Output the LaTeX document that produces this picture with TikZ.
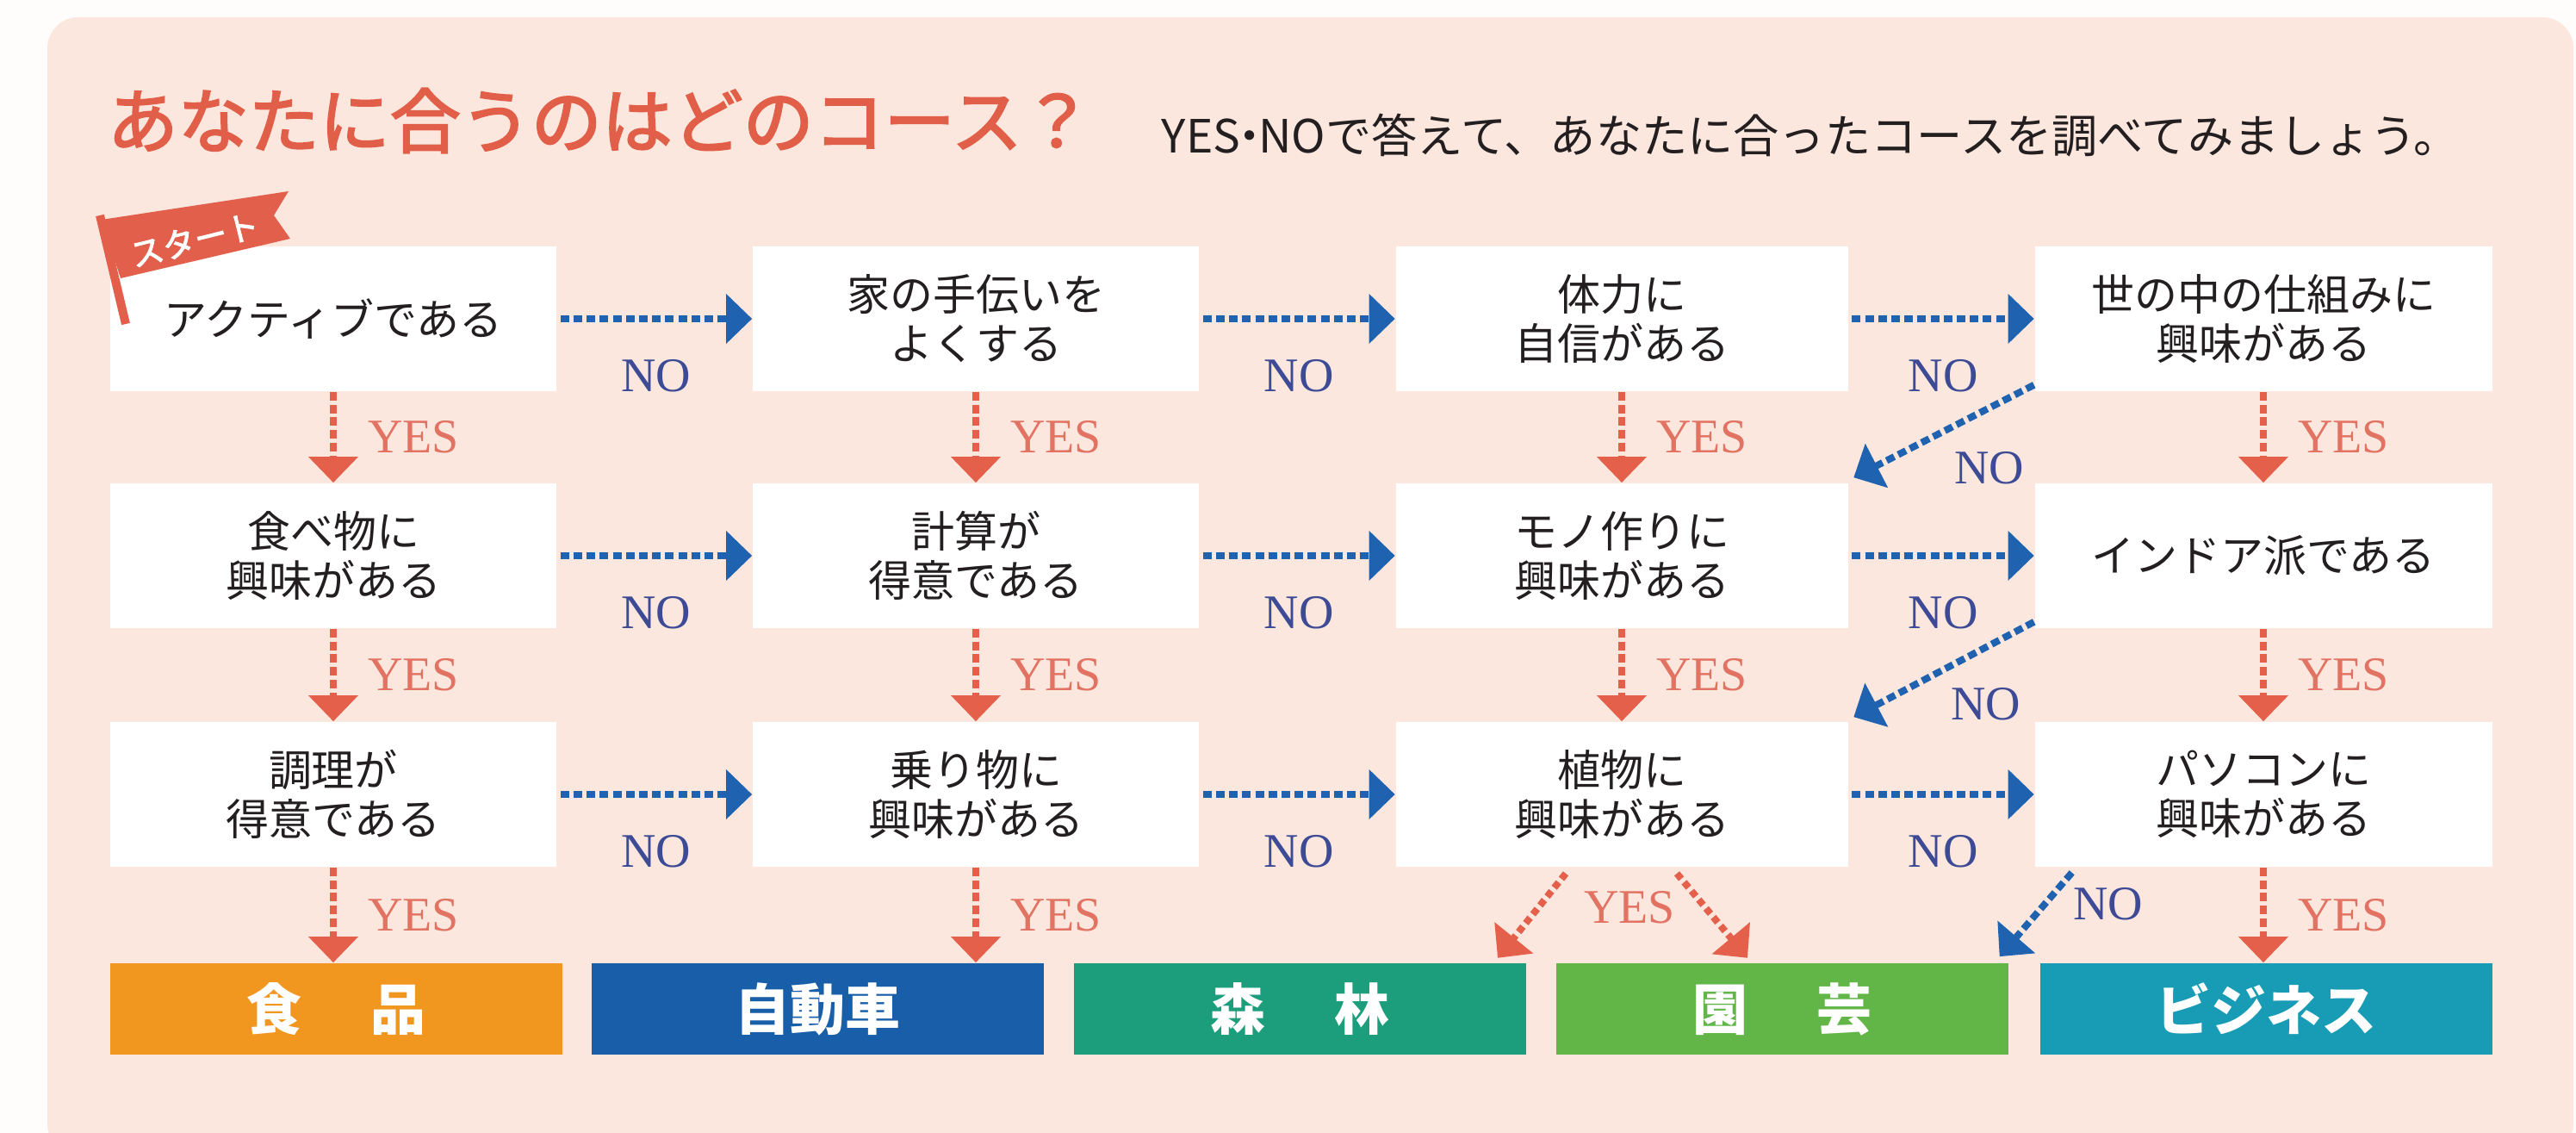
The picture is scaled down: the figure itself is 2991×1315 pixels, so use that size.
\documentclass[tikz,border=0pt]{standalone}
\usepackage{fontspec}
\newfontfamily\jp{Noto Sans CJK JP}
\newfontfamily\jpmed{Noto Sans CJK JP}[FakeBold=2.5]
\newfontfamily\ser{Liberation Serif}
\usetikzlibrary{arrows.meta,calc}
\definecolor{outerbg}{HTML}{FFFDFB}
\definecolor{panelbg}{HTML}{FCE7DE}
\definecolor{titlec}{HTML}{E15F49}
\definecolor{textc}{HTML}{231F20}
\definecolor{noblue}{HTML}{1F62B0}
\definecolor{notext}{HTML}{3D4A95}
\definecolor{yesred}{HTML}{E5604A}
\definecolor{yestext}{HTML}{E27262}
\definecolor{flagc}{HTML}{E2604B}
\definecolor{cfood}{HTML}{F1961E}
\definecolor{ccar}{HTML}{185EA8}
\definecolor{cforest}{HTML}{1C9E7C}
\definecolor{cgarden}{HTML}{62B648}
\definecolor{cbiz}{HTML}{189BB5}
\begin{document}
\begin{tikzpicture}[x=0.25pt,y=-0.25pt,
  qbox/.style={fill=white, minimum height=42pt, inner sep=0pt, align=center,
    text=textc, font=\jp\fontsize{12.5}{14.25}\selectfont},
  course/.style={minimum height=26.5pt, minimum width=131.25pt, inner sep=0pt,
    text=white, font=\jp\bfseries\fontsize{16}{18}\selectfont},
  noline/.style={draw=noblue, line width=2pt, dash pattern=on 2.5pt off 1.3pt,
    -{Triangle[length=7.5pt,width=14pt]}, fill=none},
  yesline/.style={draw=yesred, line width=2pt, dash pattern=on 2.5pt off 1.2pt,
    -{Triangle[length=7.5pt,width=14pt]}},
  nolab/.style={text=notext, inner sep=0pt, font=\ser\fontsize{14}{16}\selectfont},
  yeslab/.style={text=yestext, inner sep=0pt, font=\ser\fontsize{14}{16}\selectfont},
]
\useasboundingbox (0,0) rectangle (2991,1315);
\fill[outerbg] (0,0) rectangle (2991,1315);
\fill[panelbg, rounded corners=9pt] (55,20) rectangle (2988,1340);

% title
\node[anchor=west, inner sep=0pt, text=titlec, font=\jpmed\fontsize{20.5}{24}\selectfont] (title) at (124,140) {あなたに合うのはどのコース？};
\node[anchor=west, inner sep=0pt, text=textc, font=\jp\fontsize{13.3}{15}\selectfont] (sub) at (1348,157) {YES\kern-.3em・\kern-.3em NOで答えて、あなたに合ったコースを調べてみましょう。};

% question boxes
\node[qbox, minimum width=129.5pt] (q11) at (387,370) {アクティブである};
\node[qbox, minimum width=129.5pt] (q12) at (1133,370) {家の手伝いを\\よくする};
\node[qbox, minimum width=131.25pt] (q13) at (1883,370) {体力に\\自信がある};
\node[qbox, minimum width=132.75pt] (q14) at (2628,370) {世の中の仕組みに\\興味がある};

\node[qbox, minimum width=129.5pt] (q21) at (387,645) {食べ物に\\興味がある};
\node[qbox, minimum width=129.5pt] (q22) at (1133,645) {計算が\\得意である};
\node[qbox, minimum width=131.25pt] (q23) at (1883,645) {モノ作りに\\興味がある};
\node[qbox, minimum width=132.75pt] (q24) at (2628,645) {インドア派である};

\node[qbox, minimum width=129.5pt] (q31) at (387,922) {調理が\\得意である};
\node[qbox, minimum width=129.5pt] (q32) at (1133,922) {乗り物に\\興味がある};
\node[qbox, minimum width=131.25pt] (q33) at (1883,922) {植物に\\興味がある};
\node[qbox, minimum width=132.75pt] (q34) at (2628,922) {パソコンに\\興味がある};

% course boxes
\node[course, fill=cfood] (k1) at (390,1171) {食\hspace{1.25em}品};
\node[course, fill=ccar] (k2) at (949.5,1171) {自動車};
\node[course, fill=cforest] (k3) at (1509,1171) {森\hspace{1.25em}林};
\node[course, fill=cgarden] (k4) at (2069,1171) {園\hspace{1.25em}芸};
\node[course, fill=cbiz] (k5) at (2631,1171) {ビジネス};

% start flag
\fill[flagc] (118,255) -- (335,222) -- (318,250) -- (337,277) -- (140,323) -- cycle;
\draw[flagc, line width=2.5pt] (116,250) -- (146,376);
\node[rotate=14, text=white, inner sep=0pt, font=\jpmed\fontsize{9.5}{11}\selectfont] (start) at (226,278) {スタート};

% horizontal NO arrows
\foreach \r in {1,2,3}{
  \foreach \a/\b in {1/2,2/3,3/4}{
    \draw[noline] ([xshift=1pt]q\r\a.east) -- (q\r\b.west)
      node[nolab, midway, yshift=-16.5pt] {NO};
  }
}

% vertical YES arrows
\foreach \a/\b in {q11/q21,q21/q31,q12/q22,q22/q32,q13/q23,q23/q33,q14/q24,q24/q34}{
  \draw[yesline] (\a.south) -- (\b.north) node[yeslab, midway, anchor=west, xshift=9pt] {YES};
}
\draw[yesline] (q31.south) -- (q31.south |- k1.north) node[yeslab, midway, anchor=west, xshift=9pt] {YES};
\draw[yesline] (q32.south) -- (q32.south |- k2.north) node[yeslab, midway, anchor=west, xshift=9pt] {YES};
\draw[yesline] (q34.south) -- (q34.south |- k5.north) node[yeslab, midway, anchor=west, xshift=9pt] {YES};

% diagonal NO arrows
\coordinate (d1s) at ($(q14.south west)+(0,-8)$);
\coordinate (d1e) at ($(q23.north east)+(6,-6)$);
\coordinate (d2s) at ($(q24.south west)+(0,-8)$);
\coordinate (d2e) at ($(q33.north east)+(6,-5)$);
\coordinate (d3s) at ($(q34.south west)+(44,6)$);
\coordinate (d3e) at ($(k5.north west)+(-46,-7)$);
\draw[noline] (d1s) -- (d1e);
\draw[noline] (d2s) -- (d2e);
\draw[noline] (d3s) -- (d3e);
\node[nolab] (n1) at ($(q14.south west)+(-52,88)$) {NO};
\node[nolab] (n2) at ($(q24.south west)+(-56,87)$) {NO};
\node[nolab] (n3) at ($(q34.south west)+(86,42)$) {NO};

% diagonal YES arrows from 植物に
\coordinate (y1s) at ($(q33.south)+(-65,7)$);
\coordinate (y1e) at ($(q33.south)+(-144,105)$);
\coordinate (y2s) at ($(q33.south)+(64,7)$);
\coordinate (y2e) at ($(q33.south)+(146,105)$);
\draw[yesline, dash pattern=on 2pt off 1.3pt] (y1s) -- (y1e);
\draw[yesline, dash pattern=on 2pt off 1.3pt] (y2s) -- (y2e);
\node[yeslab] (y3) at ($(q33.south)+(9,46)$) {YES};
\end{tikzpicture}
\end{document}
